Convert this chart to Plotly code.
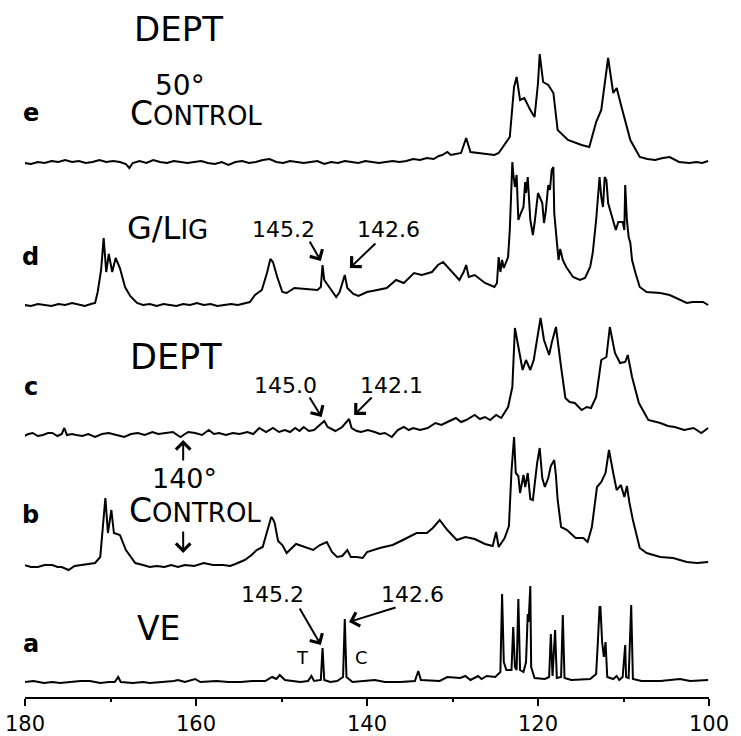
import plotly.graph_objects as go

# ---------------- data: (ppm, intensity in arbitrary units) ----------------
e_points = [(180.1,0),(179.3,-1),(178.5,1),(177.7,0),(176.9,2),(176.1,1),(175.3,3),(174.5,1),(173.7,2),(172.9,0),
            (172.1,1),(171.3,3),(170.5,1),(169.7,2),(168.9,1),(168.2,-1),(167.8,-5),(167.4,0),(166.6,2),(165.8,0),
            (165.0,3),(164.2,1),(163.4,0),(162.6,2),(161.8,1),(161.0,0),(160.2,1),(159.4,2),(158.6,0),(157.8,-1),
            (157.0,1),(156.2,-2),(155.4,1),(154.6,2),(153.8,0),(153.0,1),(152.2,3),(151.4,4),(150.6,1),(149.8,0),
            (149.0,2),(148.2,1),(147.4,0),(146.6,1),(145.8,2),(145.0,-1),(144.2,1),(143.4,0),(142.6,2),(141.8,1),
            (141.0,0),(140.2,2),(139.4,1),(138.6,0),(137.8,1),(137.0,2),(136.2,1),(135.4,2),(134.6,4),(133.8,3),
            (133.0,5),(132.2,4),(131.6,7),(131.2,8),(130.6,11),(130.2,8),(129.0,10),(128.4,25),(127.9,11),(126.8,10),
            (125.1,8),(124.6,10),(123.3,26),(122.8,76),(122.5,86),(122.1,63),(121.6,65),(120.9,53),(120.4,46),(120.0,80),
            (119.8,109),(119.4,81),(118.8,78),(118.2,70),(117.7,33),(116.5,23),(115.6,20),(114.9,18),(114.0,16),(113.2,41),
            (112.6,53),(112.1,83),(111.8,105),(111.2,70),(110.8,75),(110.2,55),(109.2,23),(108.1,6),(107.2,4),(106.3,3),
            (105.4,5),(104.6,6),(104.0,3),(103.5,1),(102.3,0),(101.5,1),(100.8,0),(100.1,2)]

d_points = [(180.1,0),(179.3,-1),(178.5,1),(177.7,0),(176.9,-1),(176.1,1),(175.3,0),(174.5,2),(173.7,0),(173.0,-1),
            (172.3,1),(171.8,2),(171.5,13),(171.1,35),(170.8,67),(170.5,33),(170.2,51),(169.8,33),(169.4,47),(168.9,37),
            (168.3,18),(167.7,9),(166.9,2),(166.2,0),(165.4,1),(164.6,-1),(163.8,1),(163.0,0),(162.3,-1),(161.5,1),
            (160.7,0),(159.9,2),(159.1,0),(158.3,1),(157.5,-1),(156.7,0),(155.9,1),(155.1,0),(154.3,2),(153.7,3),
            (153.1,10),(152.3,15),(151.7,32),(151.3,46),(151.0,43),(150.5,28),(149.9,13),(149.4,12),(148.5,17),(147.0,16),
            (145.8,15),(145.4,18),(145.2,40),(145.0,25),(144.6,20),(143.6,8),(143.2,13),(142.6,30),(142.3,17),(141.6,11),
            (141.0,9),(140.0,13),(138.8,15),(137.7,17),(136.6,25),(135.7,22),(134.5,32),(133.6,30),(132.4,33),(131.7,40),
            (131.1,43),(130.3,35),(129.2,25),(128.7,33),(128.4,40),(128.1,28),(127.4,30),(126.2,22),(125.1,18),(124.8,22),
            (124.6,48),(124.4,33),(124.2,45),(124.0,37),(123.5,48),(123.3,75),(123.0,143),(122.9,132),(122.7,118),(122.5,130),
            (122.3,85),(122.0,92),(121.7,98),(121.5,123),(121.4,112),(121.2,128),(120.9,85),(120.6,70),(120.4,82),(120.0,112),
            (119.5,102),(119.3,82),(119.1,93),(118.8,120),(118.6,115),(118.4,135),(118.2,138),(118.1,92),(117.8,58),(117.6,45),
            (117.4,56),(117.1,45),(116.7,38),(115.9,28),(115.1,25),(114.5,27),(113.9,38),(113.6,52),(113.2,85),(113.0,112),
            (112.8,128),(112.6,108),(112.4,98),(112.2,128),(112.0,125),(111.8,102),(111.3,88),(110.9,75),(110.6,83),(110.1,83),
            (109.9,75),(109.8,120),(109.6,85),(109.4,68),(109.2,62),(109.0,45),(108.6,32),(108.1,18),(107.3,13),(105.7,12),
            (104.6,10),(103.4,5),(102.6,2),(101.9,3),(100.7,3),(100.1,0)]

c_points = [(180.1,-1),(179.6,1),(179.1,2),(178.5,-1),(177.9,0),(177.3,2),(176.8,2),(176.2,-1),(175.7,1),(175.4,7),
            (175.1,0),(174.5,1),(174.0,0),(173.3,-1),(172.6,1),(171.8,-2),(171.0,1),(170.2,2),(169.3,0),(168.4,-2),
            (167.6,1),(166.8,2),(166.0,0),(165.1,3),(164.4,1),(163.7,2),(162.7,3),(162.2,0),(161.8,-2),(161.3,1),
            (160.9,3),(160.1,2),(159.3,0),(158.5,5),(157.9,1),(157.3,2),(156.5,0),(155.7,2),(154.9,1),(154.0,3),
            (153.3,1),(152.6,7),(151.8,3),(151.0,7),(150.3,3),(149.6,5),(149.0,3),(148.4,7),(147.9,4),(147.4,8),
            (146.8,4),(146.2,5),(145.6,10),(145.0,14),(144.6,8),(143.7,4),(142.9,8),(142.6,11),(142.1,16),(141.8,7),
            (141.2,4),(140.7,3),(139.9,5),(139.1,3),(138.5,1),(137.9,2),(137.1,-2),(136.4,5),(135.7,8),(135.1,5),
            (134.6,7),(133.8,5),(132.9,7),(132.0,12),(131.3,10),(130.6,13),(129.6,17),(129.0,13),(128.4,15),(127.4,20),
            (126.8,16),(126.2,18),(125.6,15),(124.9,20),(124.3,17),(123.5,28),(123.0,48),(122.7,107),(122.2,85),(121.8,65),
            (121.4,75),(120.9,65),(120.5,75),(120.1,95),(119.7,117),(119.3,95),(118.7,80),(118.4,92),(117.9,108),(117.3,68),
            (116.8,37),(116.3,33),(115.7,32),(114.9,25),(114.3,28),(113.8,27),(113.2,38),(112.6,75),(112.0,78),(111.6,108),
            (111.0,82),(110.4,72),(109.8,73),(109.5,80),(109.0,58),(108.2,32),(107.1,15),(105.7,12),(104.8,9),(104.0,8),
            (102.9,5),(101.8,7),(100.9,2),(100.1,7)]

b_points = [(180.1,1),(179.3,-1),(178.5,-1),(177.7,1),(176.8,1),(176.2,-1),(175.7,-1),(174.9,-4),(174.2,0),(173.5,1),
            (172.6,2),(171.8,3),(171.2,9),(170.9,40),(170.6,68),(170.3,33),(169.9,56),(169.6,33),(168.9,31),(168.2,16),
            (167.1,3),(166.2,1),(165.4,-1),(164.6,0),(163.7,-1),(162.9,1),(162.1,-1),(161.3,1),(160.2,0),(159.1,3),
            (158.0,1),(156.8,1),(156.0,0),(155.4,2),(154.3,6),(153.5,11),(152.9,16),(152.2,19),(151.6,36),(151.2,49),
            (151.0,47),(150.8,43),(150.4,25),(149.9,21),(149.4,13),(148.3,22),(147.6,20),(146.9,18),(146.3,16),(145.5,21),
            (144.7,24),(144.1,14),(143.5,9),(142.9,10),(142.3,16),(141.9,9),(141.2,9),(140.5,8),(140.0,14),(138.5,18),
            (137.0,21),(135.8,26),(134.2,33),(133.0,33),(132.3,38),(131.5,46),(130.6,36),(129.5,26),(128.5,29),(127.4,27),
            (126.2,22),(125.3,20),(124.9,34),(124.6,19),(123.9,28),(123.4,40),(123.1,95),(122.8,129),(122.6,93),(122.3,90),
            (122.1,73),(121.7,91),(121.5,79),(121.2,93),(120.9,67),(120.6,66),(120.1,103),(119.8,118),(119.5,88),(119.2,79),
            (118.8,88),(118.5,100),(118.1,106),(117.9,90),(117.7,66),(117.3,39),(116.6,36),(115.6,28),(114.7,28),(114.2,24),
            (113.7,39),(113.1,79),(112.6,84),(112.1,93),(111.7,116),(111.2,93),(110.8,76),(110.3,81),(109.9,69),(109.6,80),
            (109.3,63),(108.9,46),(108.5,31),(108.1,18),(107.3,13),(105.7,9),(104.2,8),(102.6,4),(101.4,3),(100.1,4)]

a_points = [(180.1,0),(179.0,1),(177.8,-1),(176.8,0),(175.9,-1),(174.6,0),(173.5,1),(172.4,1),(171.2,-1),(170.2,0),
            (169.5,0),(169.1,5),(168.8,0),(167.4,-1),(166.2,0),(165.4,-1),(163.8,0),(162.6,1),(162.1,2),(161.3,0),
            (160.1,3),(159.5,0),(157.6,1),(156.2,0),(154.8,0),(153.4,1),(151.9,1),(151.1,5),(150.6,3),(150.2,7),
            (149.6,2),(147.8,0),(146.9,1),(146.5,6),(146.2,1),(145.4,2),(145.2,34),(145.0,2),(144.3,0),(143.5,1),
            (142.8,5),(142.6,63),(142.4,5),(141.7,0),(139.1,2),(137.9,0),(136.1,0),(134.4,1),(134.0,11),(133.7,2),
            (131.5,1),(130.6,5),(129.1,4),(128.5,6),(127.9,2),(127.0,6),(126.6,3),(126.0,6),(125.0,5),(124.4,10),
            (124.2,88),(124.0,20),(123.7,12),(123.1,12),(122.9,55),(122.7,15),(122.5,12),(122.3,83),(122.1,12),(121.7,10),
            (121.4,20),(121.2,68),(121.1,60),(120.9,96),(120.8,15),(120.4,4),(119.2,3),(118.7,5),(118.5,48),(118.3,6),
            (118.0,52),(117.8,4),(117.3,5),(117.1,67),(116.9,4),(116.1,2),(113.9,3),(113.2,8),(113.0,40),(112.8,75),
            (112.7,75),(112.5,40),(112.3,25),(112.1,40),(111.9,5),(111.2,3),(110.8,6),(110.5,2),(110.1,5),(109.8,37),
            (109.7,5),(109.4,4),(109.1,77),(108.9,3),(107.9,1),(105.7,1),(103.4,3),(102.2,1),(100.1,2)]

spectra = [("e", e_points), ("d", d_points), ("c", c_points), ("b", b_points), ("a", a_points)]
tick_vals = [180, 160, 140, 120, 100]

# ---------------- layout constants ----------------
offsets = {"e": 534, "d": 392, "c": 262, "b": 131, "a": 15}
FONT = "DejaVu Sans"

fig = go.Figure()
for name, pts in spectra:
    off = offsets[name]
    xs = [p[0] for p in pts]
    ys = [p[1] + off for p in pts]
    fig.add_trace(go.Scatter(x=xs, y=ys, mode="lines",
                             line=dict(color="black", width=2), showlegend=False,
                             hoverinfo="skip"))

def txt(x, y, text, size, bold=False):
    fig.add_annotation(x=x, y=y, xref="x", yref="y", text=text, showarrow=False,
                       font=dict(family=FONT, size=size, color="black",
                                 weight="bold" if bold else "normal"),
                       xanchor="center", yanchor="middle")

def arrow(x, y, ax, ay):
    fig.add_annotation(x=x, y=y, xref="x", yref="y", text="", showarrow=True,
                       ax=ax, ay=ay, axref="pixel", ayref="pixel",
                       arrowhead=4, arrowsize=1.4, arrowwidth=2, arrowcolor="black")

# spectrum letters
for name, yy in [("e", 584), ("d", 440), ("c", 310), ("b", 182), ("a", 53)]:
    txt(179.3, yy, name, 24, True)

sc = '<span style="font-size:26px">{}</span>'
txt(162.1, 668, "DEPT", 34)
txt(161.9, 612, "50°", 28)
txt(160.0, 584, "C" + sc.format("ONTROL"), 33)
txt(163.3, 469, "G/L" + '<span style="font-size:26px">IG</span>', 32)
txt(149.8, 468, "145.2", 22)
txt(137.5, 468, "142.6", 22)
txt(162.3, 340, "DEPT", 35)
txt(149.5, 312, "145.0", 22)
txt(137.1, 312, "142.1", 22)
txt(161.3, 219, "140°", 27)
txt(160.1, 187, "C" + sc.format("ONTROL"), 33)
txt(151.0, 103, "145.2", 22)
txt(134.7, 103, "142.6", 22)
txt(164.4, 69, "VE", 33)
txt(147.5, 40, "T", 18)
txt(140.6, 40, "C", 18)

# arrows (tip in data coordinates, tail offset in pixels)
arrow(145.4, 436, -12, -21)
arrow(142.0, 429, 27, -26)
arrow(145.3, 280, -13, -21)
arrow(141.5, 282, 19, -19)
arrow(161.5, 257, 0, 22)
arrow(161.5, 144, 0, -23)
arrow(145.4, 52, -22, -38)
arrow(142.1, 75, 48, -15)

fig.update_layout(
    width=741, height=736,
    margin=dict(l=25, r=32, t=0, b=39),
    paper_bgcolor="white", plot_bgcolor="white",
    xaxis=dict(range=[180, 100], tickvals=tick_vals, ticktext=[str(v) for v in tick_vals],
               showline=True, linecolor="black", linewidth=2,
               ticks="outside", ticklen=7, tickwidth=2, tickcolor="black",
               minor=dict(dtick=10, tick0=100, ticks="outside", ticklen=3, tickwidth=2, tickcolor="black"),
               showgrid=False, zeroline=False,
               tickfont=dict(family=FONT, size=21, color="black")),
    yaxis=dict(range=[0, 697], visible=False, showgrid=False, zeroline=False),
    showlegend=False,
)

fig.write_html("out.html")
